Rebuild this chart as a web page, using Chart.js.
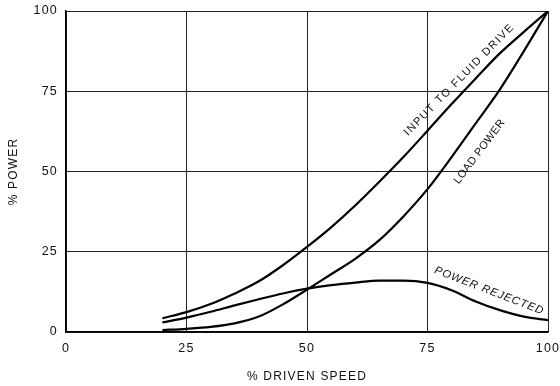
<!DOCTYPE html>
<html><head><meta charset="utf-8">
<script src="https://cdn.jsdelivr.net/npm/chart.js@4"></script>
<style>html,body{margin:0;padding:0;background:#fff}canvas{display:block}</style>
</head><body>
<canvas id="c" width="560" height="386"></canvas>
<script>
// ---- data ----
const speed         = [20, 25, 30, 35, 40, 45, 50, 55, 60, 65, 70, 75, 80, 85, 90, 95, 100];
const inputPower    = [4.3, 6.2, 8.7, 12, 15.8, 20.8, 26.5, 32.6, 39.4, 46.8, 54.5, 62.7, 71, 79, 86.8, 93.5, 100];
const loadPower     = [0.6, 1.0, 1.6, 2.7, 4.8, 8.6, 13.2, 18, 22.8, 28.6, 36, 44.5, 54.5, 65, 75.5, 87.5, 100];
const rejectedPower = [3.0, 4.5, 6.3, 8.3, 10.2, 12, 13.5, 14.6, 15.4, 16.0, 16.0, 15.3, 13, 9.5, 6.8, 4.8, 3.7];
const tickValues    = [0, 25, 50, 75, 100];
const xTitle = '% DRIVEN SPEED';
const yTitle = '% POWER';
const curveNames = ['INPUT TO FLUID DRIVE', 'LOAD POWER', 'POWER REJECTED'];

// label placement (in data units) and styling
const labelPlacement = [
  {x: 81.6, y: 78.6, angle: -45.5, italic: false, spacing: 1.5},
  {x: 85.8, y: 56.2, angle: -53, italic: false, spacing: 0.3},
  {x: 87.8, y: 12.8, angle: 21, italic: true, spacing: 1.0}
];

const FONT = '"Liberation Sans", Arial, Helvetica, sans-serif';

function pts(ys) { return speed.map((x, i) => ({x: x, y: ys[i]})); }

const spacingPlugin = {
  id: 'spacing',
  beforeDraw(chart) { chart.ctx.letterSpacing = '1.2px'; },
  afterDraw(chart) { chart.ctx.letterSpacing = '0px'; }
};

const curveLabelPlugin = {
  id: 'curveLabels',
  afterDatasetsDraw(chart) {
    const ctx = chart.ctx, xs = chart.scales.x, ys = chart.scales.y;
    curveNames.forEach((t, i) => {
      const p = labelPlacement[i];
      ctx.save();
      ctx.translate(xs.getPixelForValue(p.x), ys.getPixelForValue(p.y));
      ctx.rotate(p.angle * Math.PI / 180);
      ctx.letterSpacing = p.spacing + 'px';
      ctx.font = (p.italic ? 'italic ' : '') + '11px ' + FONT;
      ctx.fillStyle = '#111';
      ctx.textAlign = 'center';
      ctx.textBaseline = 'middle';
      ctx.fillText(t, 0, 0);
      ctx.restore();
    });
  }
};

const lineStyle = {borderColor: '#000', borderWidth: 2.2, pointRadius: 0, fill: false, cubicInterpolationMode: 'monotone'};

new Chart(document.getElementById('c'), {
  type: 'line',
  data: {
    datasets: [
      Object.assign({label: curveNames[0], data: pts(inputPower)}, lineStyle),
      Object.assign({label: curveNames[1], data: pts(loadPower)}, lineStyle),
      Object.assign({label: curveNames[2], data: pts(rejectedPower)}, lineStyle)
    ]
  },
  options: {
    responsive: false,
    devicePixelRatio: 1,
    animation: false,
    layout: {padding: {left: 0, right: 12, top: 11, bottom: 0}},
    plugins: {legend: {display: false}, tooltip: {enabled: false}},
    scales: {
      x: {
        type: 'linear', min: 0, max: 100,
        afterBuildTicks(s) { s.ticks = tickValues.map(v => ({value: v})); },
        afterFit(s) { s.height = 54; s.paddingLeft = 0; s.paddingRight = 0; },
        grid: {color: '#222', lineWidth: 1, drawTicks: false, tickLength: 0},
        border: {display: true, color: '#000', width: 1.5},
        ticks: {color: '#111', padding: 9, font: {family: FONT, size: 12.5}, maxRotation: 0},
        title: {display: true, text: xTitle, color: '#111', font: {family: FONT, size: 12}, padding: {top: 0, bottom: 2}}
      },
      y: {
        type: 'linear', min: 0, max: 100,
        afterBuildTicks(s) { s.ticks = tickValues.map(v => ({value: v})); },
        afterFit(s) { s.width = 66; s.paddingTop = 0; s.paddingBottom = 0; },
        grid: {color: '#222', lineWidth: 1, drawTicks: false, tickLength: 0},
        border: {display: true, color: '#000', width: 1.5},
        ticks: {color: '#111', padding: 8, font: {family: FONT, size: 12.5}},
        title: {display: true, text: yTitle, color: '#111', font: {family: FONT, size: 12}, padding: {top: 6, bottom: 0}}
      }
    }
  },
  plugins: [spacingPlugin, curveLabelPlugin]
});
</script>
</body></html>
